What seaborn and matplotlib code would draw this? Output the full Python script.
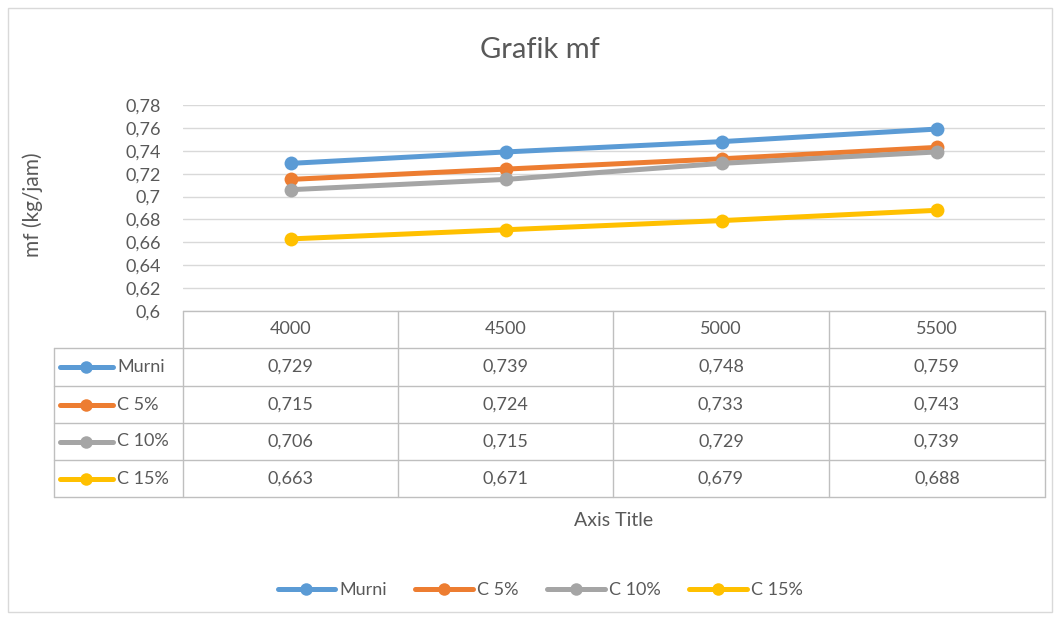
import pandas as pd
import numpy as np
import matplotlib
matplotlib.use('Agg')
import matplotlib.pyplot as plt
import seaborn as sns
from matplotlib.ticker import FuncFormatter, MultipleLocator
from matplotlib.lines import Line2D
from matplotlib.patches import Rectangle

# Data grafik mf
rpm = ['4000', '4500', '5000', '5500']
series = ['Murni', 'C 5%', 'C 10%', 'C 15%']
murni = [0.729, 0.739, 0.748, 0.759]
c5 = [0.715, 0.724, 0.733, 0.743]
c10 = [0.706, 0.715, 0.729, 0.739]
c15 = [0.663, 0.671, 0.679, 0.688]
colors = ['#5B9BD5', '#ED7D31', '#A5A5A5', '#FFC000']

values = [murni, c5, c10, c15]
df = pd.DataFrame({
    'x': np.tile(np.arange(len(rpm)), len(series)),
    'mf': np.concatenate(values),
    'seri': np.repeat(series, len(rpm)),
})

sns.set_style('white')
plt.rcParams['font.family'] = ['Lato', 'DejaVu Sans']
txt = '#595959'
grid = '#D9D9D9'

W, H = 1062, 622
fig = plt.figure(figsize=(W / 100, H / 100), dpi=100)

def box(l, t, r, b):
    return [l / W, 1 - b / H, (r - l) / W, (b - t) / H]

# overlay untuk border, tabel, judul
ov = fig.add_axes([0, 0, 1, 1])
ov.set_xlim(0, W)
ov.set_ylim(H, 0)
ov.axis('off')
ov.add_patch(Rectangle((8, 8), 1044, 604, fill=False, ec=grid, lw=1))

# plot utama
ax = fig.add_axes(box(183, 105, 1045, 311))
sns.lineplot(data=df, x='x', y='mf', hue='seri', palette=colors, marker='o',
             markersize=10, markeredgewidth=0, linewidth=3.6, ax=ax, legend=False)
ax.set_xlim(-0.5, len(rpm) - 0.5)
ax.set_ylim(0.6, 0.78)
ax.yaxis.set_major_locator(MultipleLocator(0.02))
ax.yaxis.set_major_formatter(FuncFormatter(lambda v, p: ('%g' % round(v, 2)).replace('.', ',')))
ax.set_xticks([])
ax.grid(axis='y', color=grid, lw=1)
ax.set_axisbelow(True)
for s in ax.spines.values():
    s.set_visible(False)
ax.tick_params(axis='y', length=0, labelsize=13, labelcolor=txt, pad=16)
ax.set_xlabel('')
ax.set_ylabel('')
ax.patch.set_alpha(0)

fig.text(33 / W, 1 - 205 / H, 'mf (kg/jam)', rotation=90, ha='center', va='center',
         fontsize=15, color=txt)
fig.text(540 / W, 1 - 50 / H, 'Grafik mf', ha='center', va='center', fontsize=21, color=txt)

# tabel data
col_x = [54, 183, 398, 613, 829, 1045]
row_y = [311, 348, 386, 423, 460, 497]
lc = '#BFBFBF'
ov.plot([col_x[1], col_x[-1]], [row_y[0]] * 2, color=lc, lw=1)
for y in row_y[1:]:
    ov.plot([col_x[0], col_x[-1]], [y, y], color=lc, lw=1)
ov.plot([col_x[0]] * 2, [row_y[1], row_y[-1]], color=lc, lw=1)
for x in col_x[1:]:
    ov.plot([x, x], [row_y[0], row_y[-1]], color=lc, lw=1)

for j, lab in enumerate(rpm):
    cx = (col_x[j + 1] + col_x[j + 2]) / 2
    ov.text(cx, (row_y[0] + row_y[1]) / 2, lab, ha='center', va='center', fontsize=13, color=txt)
for i, (name, vals, c) in enumerate(zip(series, values, colors)):
    cy = (row_y[i + 1] + row_y[i + 2]) / 2
    ov.plot([60, 113], [cy, cy], color=c, lw=3.6)
    ov.plot([86], [cy], marker='o', color=c, markersize=9, mew=0)
    ov.text(117, cy, name, ha='left', va='center', fontsize=13, color=txt)
    for j, v in enumerate(vals):
        cx = (col_x[j + 1] + col_x[j + 2]) / 2
        ov.text(cx, cy, ('%.3f' % v).replace('.', ','), ha='center', va='center',
                fontsize=13, color=txt)

ov.text((col_x[1] + col_x[-1]) / 2, 521, 'Axis Title', ha='center', va='center', fontsize=14, color=txt)

handles = [Line2D([], [], color=c, lw=3.6, marker='o', markersize=9, mew=0) for c in colors]
fig.legend(handles, series, loc='center', bbox_to_anchor=(540 / W, 1 - 590 / H), ncol=4,
           frameon=False, fontsize=13, labelcolor=txt, handlelength=3.2, handletextpad=0.2,
           columnspacing=1.6)

fig.savefig('out.png', dpi=100)
